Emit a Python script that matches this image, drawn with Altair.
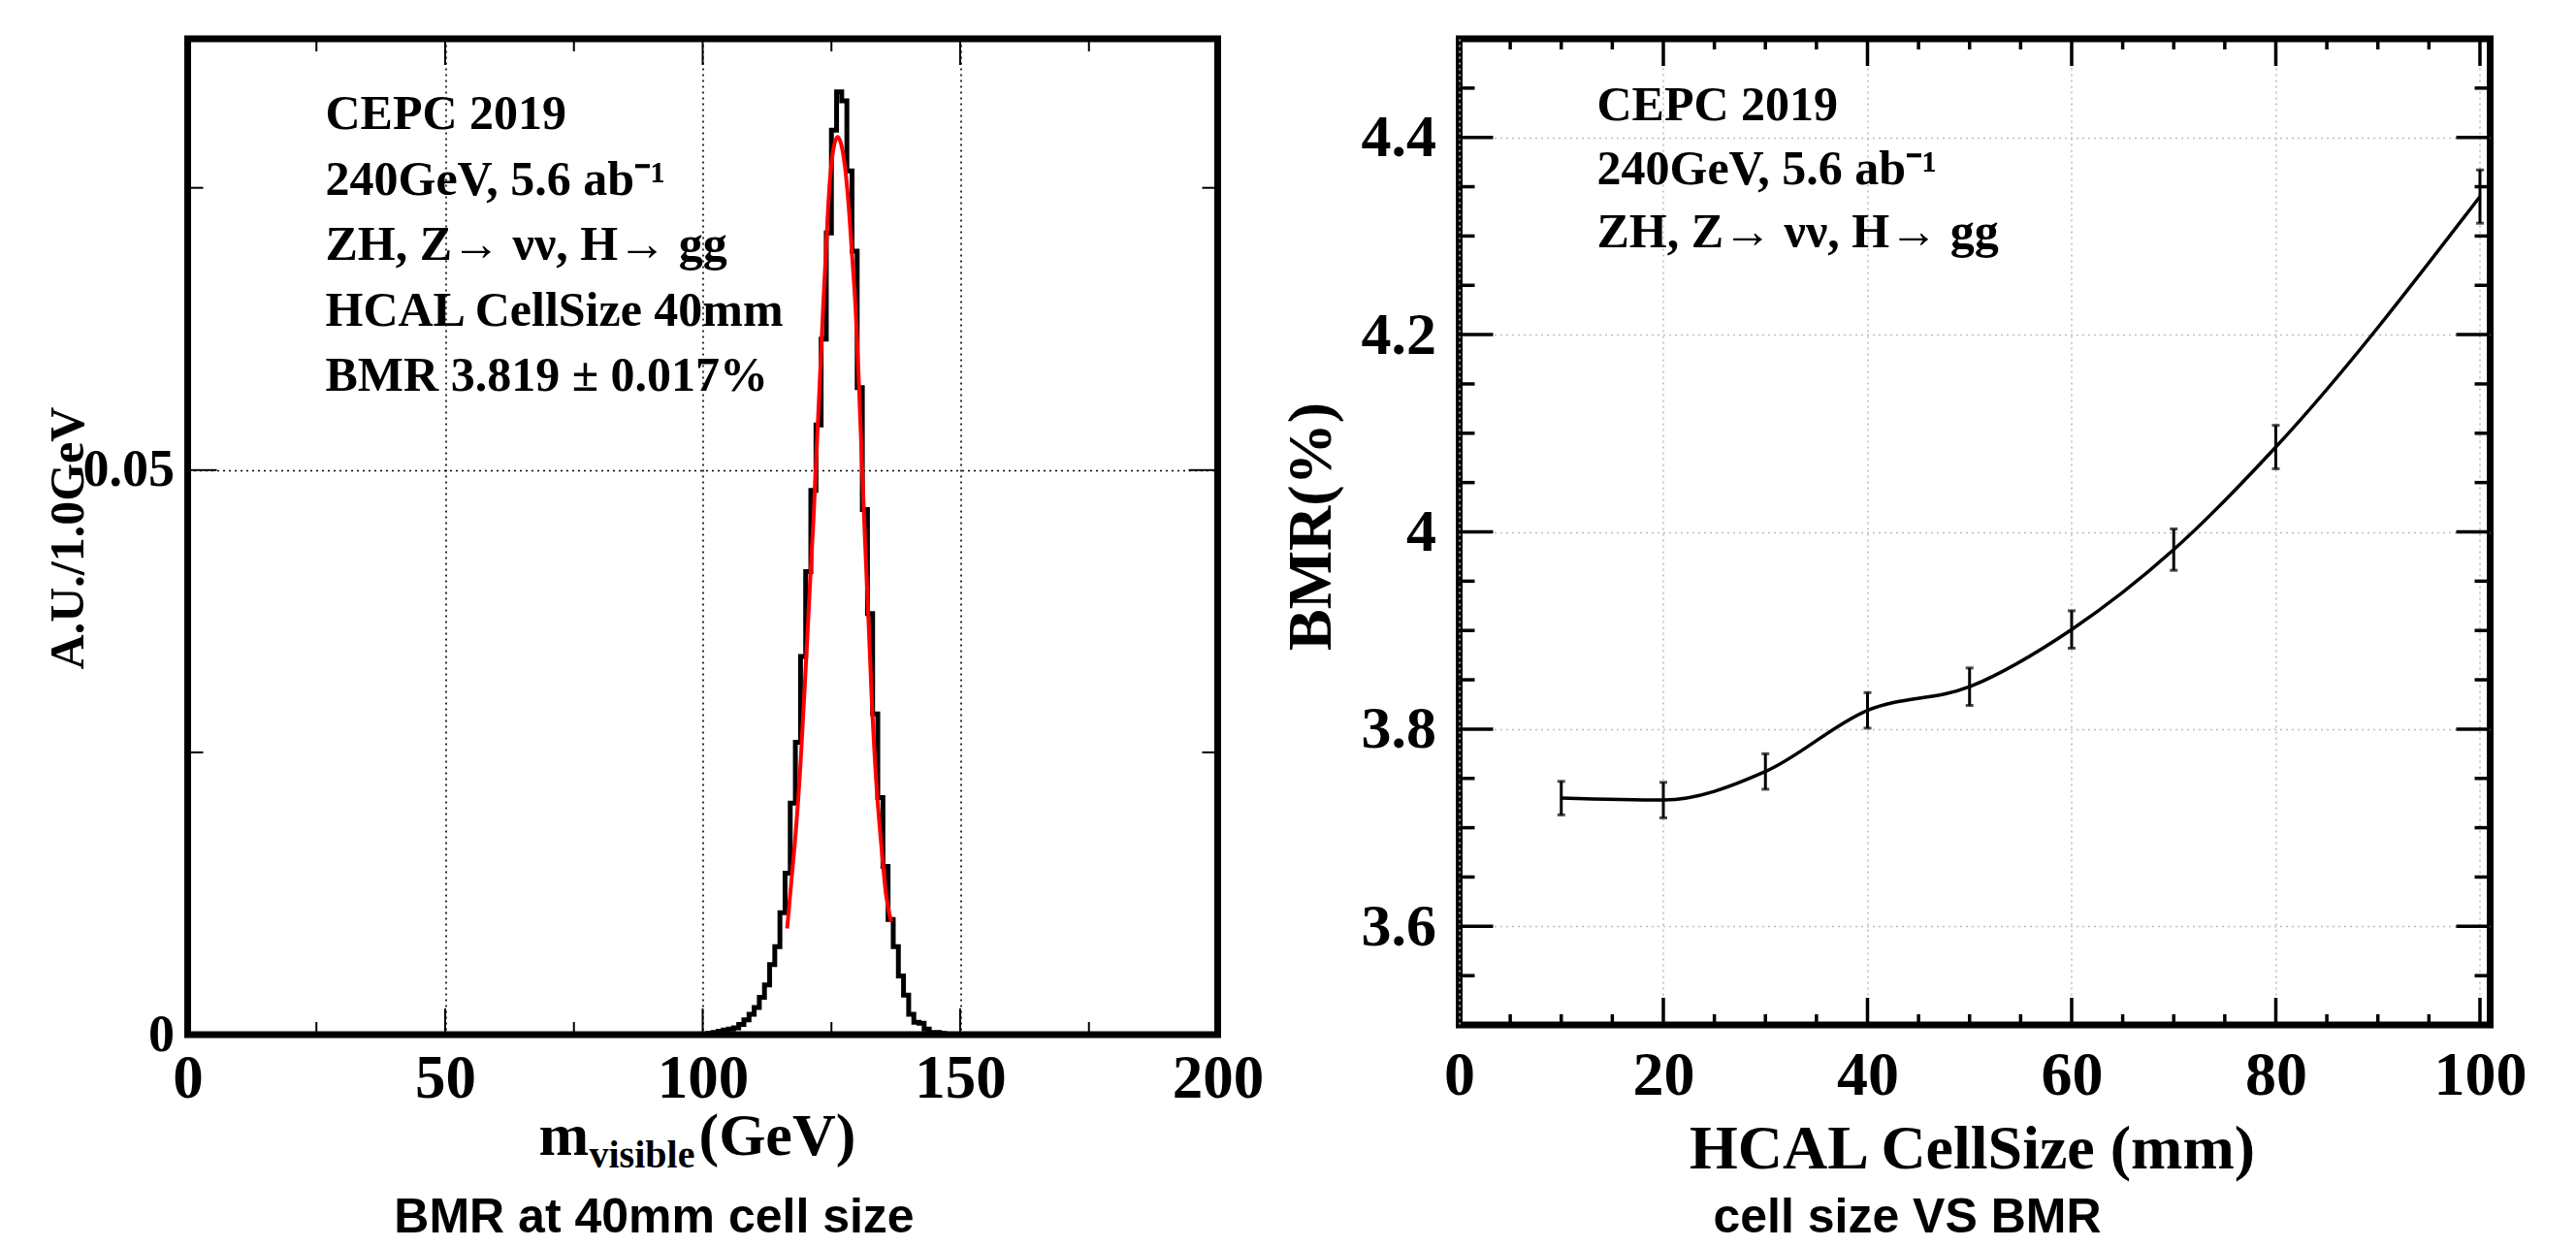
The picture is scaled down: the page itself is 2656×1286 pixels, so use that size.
import altair as alt
import pandas as pd

# ---------------- left panel data: m_visible histogram (A.U./1 GeV) and fit ----------------
hist_bin_low = list(range(100, 148))
hist_value = [0.0, 0.0001, 0.0002, 0.0003, 0.0004, 0.0005, 0.0006, 0.0009, 0.0013, 0.0018,
              0.0024, 0.0033, 0.0044, 0.0062, 0.0078, 0.0108, 0.0143, 0.0205, 0.0259, 0.0335,
              0.0410, 0.0482, 0.0540, 0.0616, 0.0710, 0.0801, 0.0835, 0.0827, 0.0765, 0.0694,
              0.0573, 0.0465, 0.0373, 0.0284, 0.0210, 0.0149, 0.0102, 0.0078, 0.0052, 0.0035,
              0.0018, 0.0011, 0.0010, 0.0005, 0.0002, 0.0002, 0.0001, 0.0]
fit_x = [116.4, 117.2, 118.1, 119.0, 119.6, 120.3, 120.9, 121.5, 122.1, 122.7, 123.4, 124.0,
         124.6, 125.3, 126.2, 127.2, 127.8, 128.4, 129.0, 129.7, 130.3, 130.9, 131.5, 132.2,
         132.8, 133.7, 134.7, 135.6, 136.6]
fit_y = [0.0094, 0.0135, 0.0181, 0.0240, 0.0290, 0.0350, 0.0405, 0.0455, 0.0515, 0.0575,
         0.0645, 0.0700, 0.0750, 0.0782, 0.0795, 0.0782, 0.0762, 0.0731, 0.0691, 0.0642,
         0.0580, 0.0510, 0.0440, 0.0367, 0.0300, 0.0224, 0.0167, 0.0124, 0.0100]

left_x_labels = [0, 50, 100, 150, 200]
left_x_major = [50, 100, 150]
left_x_minor = [25, 75, 125, 175]
left_y_labels = [0, 0.05]
left_y_major = [0.05]
left_y_minor = [0.025, 0.075]
left_notes = ["CEPC 2019", "240GeV, 5.6 ab\u207b\u00b9", "ZH, Z\u2192 \u03bd\u03bd, H\u2192 gg",
              "HCAL CellSize 40mm", "BMR 3.819 \u00b1 0.017%"]

# ---------------- right panel data: BMR vs HCAL cell size ----------------
cell_size = [10, 20, 30, 40, 50, 60, 70, 80, 100]
bmr = [3.730, 3.728, 3.757, 3.819, 3.843, 3.901, 3.982, 4.086, 4.340]
bmr_err = [0.017, 0.018, 0.018, 0.018, 0.019, 0.019, 0.021, 0.022, 0.027]

right_x_labels = [0, 20, 40, 60, 80, 100]
right_x_minor = [5, 10, 15, 25, 30, 35, 45, 50, 55, 65, 70, 75, 85, 90, 95]
right_y_labels = [3.6, 3.8, 4.0, 4.2, 4.4]
right_y_minor = [3.55, 3.65, 3.7, 3.75, 3.85, 3.9, 3.95, 4.05, 4.1, 4.15, 4.25, 4.3, 4.35, 4.45]
right_notes = ["CEPC 2019", "240GeV, 5.6 ab\u207b\u00b9", "ZH, Z\u2192  \u03bd\u03bd, H\u2192 gg"]

SERIF = "Liberation Serif"
SANS = "Liberation Sans"

L_W, L_H = 1062, 1027
R_W, R_H = 1063, 1017


def text_mark(txt, x, y, size, font=SERIF, align="left", baseline="alphabetic", angle=0):
    kw = dict(align=align, baseline=baseline, font=font, fontSize=size,
              fontWeight="bold", color="black")
    if angle:
        kw["angle"] = angle
    return alt.Chart(pd.DataFrame({"t": [txt]})).mark_text(**kw).encode(
        x=alt.value(x), y=alt.value(y), text="t:N")


def xticks(vals, scale, h, length, width):
    df = pd.DataFrame({"t": vals})
    bottom = alt.Chart(df).mark_rule(color="black", strokeWidth=width).encode(
        x=alt.X("t:Q", scale=scale, title=None), y=alt.value(h), y2=alt.value(h - length))
    top = alt.Chart(df).mark_rule(color="black", strokeWidth=width).encode(
        x=alt.X("t:Q", scale=scale, title=None), y=alt.value(0), y2=alt.value(length))
    return [bottom, top]


def yticks(vals, scale, w, length, width):
    df = pd.DataFrame({"t": vals})
    left = alt.Chart(df).mark_rule(color="black", strokeWidth=width).encode(
        y=alt.Y("t:Q", scale=scale, title=None), x=alt.value(0), x2=alt.value(length))
    right = alt.Chart(df).mark_rule(color="black", strokeWidth=width).encode(
        y=alt.Y("t:Q", scale=scale, title=None), x=alt.value(w), x2=alt.value(w - length))
    return [left, right]


# ---------------- left panel ----------------
xs_l = alt.Scale(domain=[0, 200], nice=False, zero=False)
ys_l = alt.Scale(domain=[0, 0.0882], nice=False, zero=False)

hist_df = pd.DataFrame({"m": hist_bin_low, "v": hist_value})
fit_df = pd.DataFrame({"m": fit_x, "v": fit_y})

hist = alt.Chart(hist_df).mark_line(interpolate="step-after", color="black", strokeWidth=5).encode(
    x=alt.X("m:Q", scale=xs_l, axis=alt.Axis(
        values=left_x_labels, title=None, grid=True, gridColor="black", gridDash=[2, 4],
        gridWidth=1.6, ticks=False, domain=False, labelFont=SERIF, labelFontWeight="bold",
        labelFontSize=63, labelPadding=14, labelFlush=False, labelOverlap=False,
        labelColor="black")),
    y=alt.Y("v:Q", scale=ys_l, axis=alt.Axis(
        values=left_y_labels, format="~g", title=None, grid=True, gridColor="black",
        gridDash=[2, 4], gridWidth=1.6, ticks=False, domain=False, labelFont=SERIF,
        labelFontWeight="bold", labelFontSize=54, labelPadding=14, labelOverlap=False,
        labelColor="black")),
)
fit = alt.Chart(fit_df).mark_line(interpolate="monotone", color="#ff0000", strokeWidth=4).encode(
    x=alt.X("m:Q", scale=xs_l, title=None), y=alt.Y("v:Q", scale=ys_l, title=None))

left_layers = [hist]
left_layers += xticks(left_x_major, xs_l, L_H, 27, 2)
left_layers += xticks(left_x_minor, xs_l, L_H, 13, 2)
left_layers += yticks(left_y_major, ys_l, L_W, 30, 2)
left_layers += yticks(left_y_minor, ys_l, L_W, 16, 2)
left_layers.append(fit)
for i, t in enumerate(left_notes):
    left_layers.append(text_mark(t, 142, 93 + i * 67.5, 50))
# x title with subscript
left_layers.append(text_mark("m", 362, 1151, 62))
left_layers.append(text_mark("visible", 414, 1164, 40))
left_layers.append(text_mark("(GeV)", 527, 1151, 62))
# y title
left_layers.append(text_mark("A.U./1.0GeV", -123, 515, 50, align="center", baseline="middle", angle=270))
# caption
left_layers.append(text_mark("BMR at 40mm cell size", 481, 1231, 50, font=SANS, align="center"))

left = alt.layer(*left_layers).properties(width=L_W, height=L_H)

# ---------------- right panel ----------------
xs_r = alt.Scale(domain=[0, 101], nice=False, zero=False)
ys_r = alt.Scale(domain=[3.5, 4.5], nice=False, zero=False)

bmr_df = pd.DataFrame({"c": cell_size, "b": bmr, "e": bmr_err})
bmr_df["lo"] = bmr_df["b"] - bmr_df["e"]
bmr_df["hi"] = bmr_df["b"] + bmr_df["e"]

curve = alt.Chart(bmr_df).mark_line(interpolate="monotone", color="black", strokeWidth=3.5).encode(
    x=alt.X("c:Q", scale=xs_r, axis=alt.Axis(
        values=right_x_labels, title=None, grid=True, gridColor="#bdbdbd", gridDash=[2, 4],
        gridWidth=1.6, ticks=False, domain=False, labelFont=SERIF, labelFontWeight="bold",
        labelFontSize=64, labelPadding=20, labelFlush=False, labelOverlap=False,
        labelColor="black")),
    y=alt.Y("b:Q", scale=ys_r, axis=alt.Axis(
        values=right_y_labels, format="~g", title=None, grid=True, gridColor="#bdbdbd",
        gridDash=[2, 4], gridWidth=1.6, ticks=False, domain=False, labelFont=SERIF,
        labelFontWeight="bold", labelFontSize=62, labelPadding=24, labelOverlap=False,
        labelColor="black")),
)
err = alt.Chart(bmr_df).mark_rule(color="black", strokeWidth=3).encode(
    x=alt.X("c:Q", scale=xs_r, title=None), y=alt.Y("lo:Q", scale=ys_r, title=None), y2="hi:Q")
cap_lo = alt.Chart(bmr_df).mark_tick(color="black", orient="horizontal", size=8, thickness=3).encode(
    x=alt.X("c:Q", scale=xs_r, title=None), y=alt.Y("lo:Q", scale=ys_r, title=None))
cap_hi = alt.Chart(bmr_df).mark_tick(color="black", orient="horizontal", size=8, thickness=3).encode(
    x=alt.X("c:Q", scale=xs_r, title=None), y=alt.Y("hi:Q", scale=ys_r, title=None))

right_layers = [curve]
right_layers += xticks(right_x_labels[1:], xs_r, R_H, 28, 3.5)
right_layers += xticks(right_x_minor, xs_r, R_H, 11, 3.5)
right_layers += yticks(right_y_labels, ys_r, R_W, 35, 3.5)
right_layers += yticks(right_y_minor, ys_r, R_W, 16, 3.5)
right_layers += [err, cap_lo, cap_hi]
for i, t in enumerate(right_notes):
    right_layers.append(text_mark(t, 142, 84 + i * 65.5, 50))
right_layers.append(text_mark("HCAL CellSize (mm)", 529, 1165, 64, align="center"))
right_layers.append(text_mark("BMR(%)", -152, 503, 64, align="center", baseline="middle", angle=270))
right_layers.append(text_mark("cell size VS BMR", 462, 1231, 50, font=SANS, align="center"))

right = alt.layer(*right_layers).properties(width=R_W, height=R_H)

chart = alt.hconcat(left, right, spacing=10).properties(
    padding={"left": 33.5, "top": 26, "right": 0, "bottom": 0}
).configure_view(stroke="black", strokeWidth=7)

chart.save("out.html", embed_options={"renderer": "svg", "actions": False})
